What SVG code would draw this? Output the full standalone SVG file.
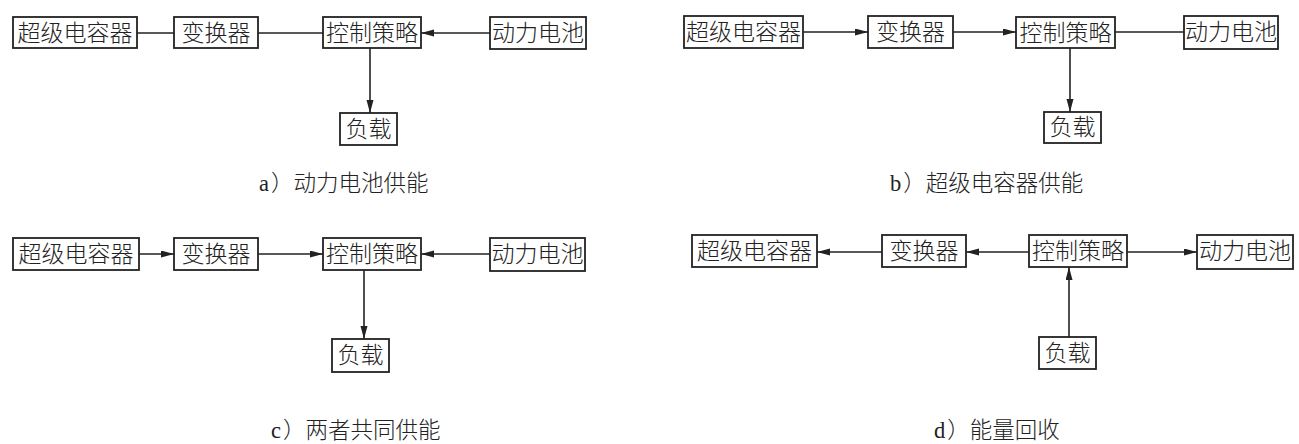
<svg xmlns="http://www.w3.org/2000/svg" width="1299" height="444" viewBox="0 0 1299 444">
<style>
.box rect{fill:#fff;stroke:#222;stroke-width:1.8}
.box text{font-family:"Noto Sans CJK SC","Liberation Sans",sans-serif;font-size:23px;font-weight:300;fill:#222;text-anchor:middle}
.cap{font-family:"Noto Sans CJK SC","Liberation Sans",sans-serif;font-size:22.5px;font-weight:300;fill:#222}
.lat{font-family:"Liberation Serif",serif;font-weight:normal}
#connectors line{stroke:#222;stroke-width:1.6;fill:none}
.ar{marker-end:url(#ah)}
</style>
<defs>
<marker id="ah" markerUnits="userSpaceOnUse" markerWidth="14" markerHeight="8" refX="13" refY="3.5" orient="auto">
<path d="M0,0 L13,3.5 L0,7 z" fill="#222"/>
</marker>
</defs>
<rect width="1299" height="444" fill="#fff"/>
<g id="connectors">
<line x1="137" y1="33" x2="174" y2="33"/>
<line x1="258" y1="33" x2="323" y2="33"/>
<line class="ar" x1="490" y1="33" x2="421" y2="33"/>
<line class="ar" x1="370" y1="48" x2="370" y2="113"/>
<line class="ar" x1="803" y1="32" x2="868" y2="32"/>
<line class="ar" x1="953" y1="32" x2="1016" y2="32"/>
<line x1="1115" y1="32" x2="1184" y2="32"/>
<line class="ar" x1="1070" y1="48" x2="1070" y2="112"/>
<line class="ar" x1="139" y1="254" x2="174" y2="254"/>
<line class="ar" x1="258" y1="254" x2="323" y2="254"/>
<line class="ar" x1="490" y1="254" x2="421" y2="254"/>
<line class="ar" x1="364" y1="270" x2="364" y2="339"/>
<line class="ar" x1="882" y1="252" x2="817" y2="252"/>
<line class="ar" x1="1029" y1="252" x2="966" y2="252"/>
<line class="ar" x1="1127" y1="252" x2="1197" y2="252"/>
<line class="ar" x1="1069" y1="337" x2="1069" y2="267"/>
</g>
<g id="a-supercap" class="box"><rect x="13" y="17" width="124" height="31"/><text x="75" y="41">超级电容器</text></g>
<g id="a-converter" class="box"><rect x="174" y="17" width="84" height="31"/><text x="216" y="41">变换器</text></g>
<g id="a-control" class="box"><rect x="323" y="17" width="98" height="31"/><text x="372" y="41">控制策略</text></g>
<g id="a-battery" class="box"><rect x="490" y="17" width="96" height="32"/><text x="538" y="41">动力电池</text></g>
<g id="a-load" class="box"><rect x="340" y="113" width="57" height="32"/><text x="368.5" y="137">负载</text></g>
<text class="cap" x="259" y="191"><tspan class="lat">a</tspan><tspan dx="2">）动力电池供能</tspan></text>
<g id="b-supercap" class="box"><rect x="684" y="16" width="119" height="32"/><text x="743.5" y="40">超级电容器</text></g>
<g id="b-converter" class="box"><rect x="868" y="16" width="85" height="32"/><text x="910.5" y="40">变换器</text></g>
<g id="b-control" class="box"><rect x="1016" y="17" width="99" height="31"/><text x="1065.5" y="41">控制策略</text></g>
<g id="b-battery" class="box"><rect x="1184" y="16" width="94" height="33"/><text x="1231" y="40">动力电池</text></g>
<g id="b-load" class="box"><rect x="1044" y="112" width="57" height="31"/><text x="1072.5" y="135">负载</text></g>
<text class="cap" x="890" y="191"><tspan class="lat">b</tspan><tspan dx="2">）超级电容器供能</tspan></text>
<g id="c-supercap" class="box"><rect x="13" y="238" width="126" height="32"/><text x="76" y="262">超级电容器</text></g>
<g id="c-converter" class="box"><rect x="174" y="238" width="84" height="32"/><text x="216" y="262">变换器</text></g>
<g id="c-control" class="box"><rect x="323" y="238" width="98" height="32"/><text x="372" y="262">控制策略</text></g>
<g id="c-battery" class="box"><rect x="490" y="238" width="95" height="33"/><text x="537.5" y="262">动力电池</text></g>
<g id="c-load" class="box"><rect x="332" y="339" width="57" height="33"/><text x="360.5" y="363">负载</text></g>
<text class="cap" x="271" y="438"><tspan class="lat">c</tspan><tspan dx="2">）两者共同供能</tspan></text>
<g id="d-supercap" class="box"><rect x="692" y="235" width="125" height="32"/><text x="754.5" y="259">超级电容器</text></g>
<g id="d-converter" class="box"><rect x="882" y="235" width="84" height="32"/><text x="924" y="259">变换器</text></g>
<g id="d-control" class="box"><rect x="1029" y="235" width="98" height="32"/><text x="1078" y="259">控制策略</text></g>
<g id="d-battery" class="box"><rect x="1197" y="235" width="96" height="34"/><text x="1245" y="259">动力电池</text></g>
<g id="d-load" class="box"><rect x="1039" y="337" width="57" height="32"/><text x="1067.5" y="361">负载</text></g>
<text class="cap" x="934" y="438"><tspan class="lat">d</tspan><tspan dx="2">）能量回收</tspan></text>
</svg>
